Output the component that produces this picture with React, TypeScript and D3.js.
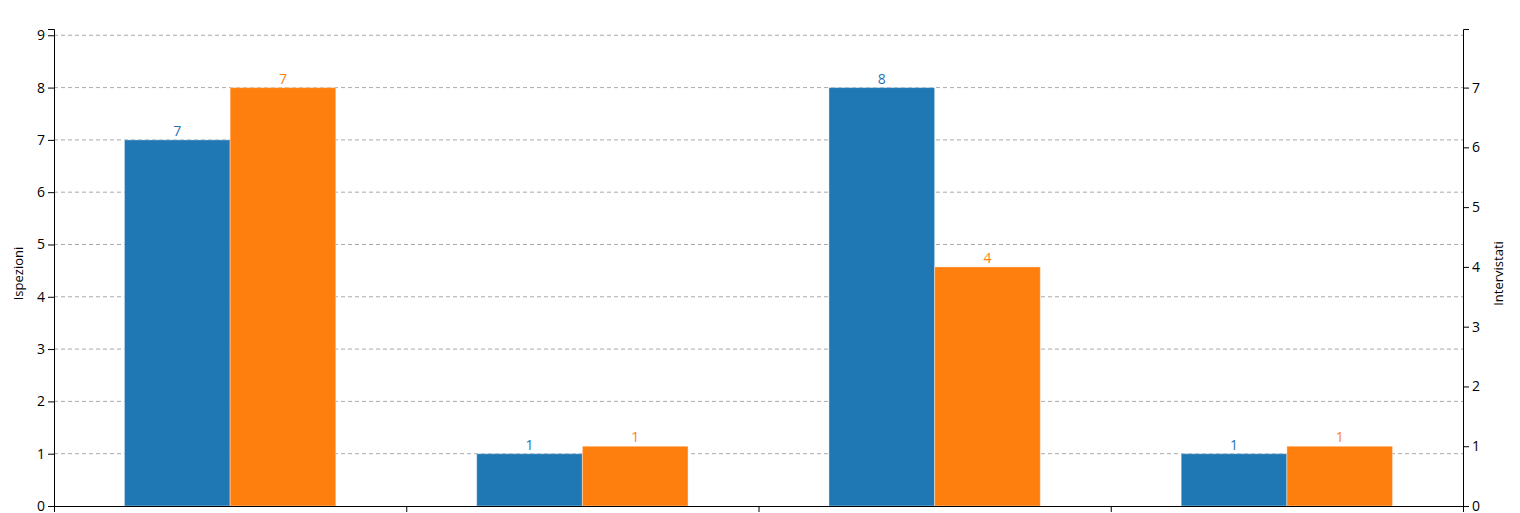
import React, { useEffect, useRef } from "react";
import * as d3 from "d3";

// groups (the x axis carries no labels in the reference)
const categories = ["g1", "g2", "g3", "g4"];
const ispezioni = [7, 1, 8, 1];
const intervistati = [7, 1, 4, 1];
const leftTicks = [0, 1, 2, 3, 4, 5, 6, 7, 8, 9];
const rightTicks = [0, 1, 2, 3, 4, 5, 6, 7];

const W = 1520;
const H = 513;
const margin = { top: 29, right: 57, bottom: 7, left: 54 };
const BLUE = "#1f77b4";
const ORANGE = "#ff7f0e";
const FONT = "'Segoe UI', 'Open Sans', sans-serif";

function App() {
  const svgRef = useRef<SVGSVGElement>(null);

  useEffect(() => {
    const svg = d3.select(svgRef.current);
    svg.selectAll("*").remove();

    const x0 = margin.left;
    const x1 = W - margin.right;
    const y0 = H - margin.bottom;

    // scales
    const yLeft = d3.scaleLinear()
      .domain([0, d3.max(ispezioni)! * 1.14])
      .range([y0, margin.top]);
    const yRight = d3.scaleLinear()
      .domain([0, d3.max(intervistati)! * 1.14])
      .range([y0, margin.top]);
    const xBand = d3.scaleBand().domain(categories).range([x0, x1]).padding(0);
    const bw = xBand.bandwidth();
    const xSub = d3.scaleBand()
      .domain(["left", "right"])
      .range([bw * 0.2, bw * 0.8])
      .padding(0);
    const xLin = d3.scaleLinear().domain([0, categories.length]).range([x0, x1]);

    // grid
    svg.append("g")
      .selectAll("line")
      .data(leftTicks.filter(t => t > 0))
      .join("line")
      .attr("x1", x0)
      .attr("x2", x1)
      .attr("y1", d => yLeft(d))
      .attr("y2", d => yLeft(d))
      .attr("stroke", "#aaa")
      .attr("stroke-dasharray", "4,3");

    // bars
    const groups = svg.append("g")
      .selectAll("g")
      .data(categories)
      .join("g")
      .attr("transform", d => `translate(${xBand(d)},0)`);

    groups.append("rect")
      .attr("x", xSub("left")!)
      .attr("width", xSub.bandwidth())
      .attr("y", (_, i) => yLeft(ispezioni[i]))
      .attr("height", (_, i) => y0 - yLeft(ispezioni[i]))
      .attr("fill", BLUE)
      .attr("stroke", "#fff")
      .attr("stroke-opacity", 0.4);

    groups.append("rect")
      .attr("x", xSub("right")!)
      .attr("width", xSub.bandwidth())
      .attr("y", (_, i) => yRight(intervistati[i]))
      .attr("height", (_, i) => y0 - yRight(intervistati[i]))
      .attr("fill", ORANGE)
      .attr("stroke", "#fff")
      .attr("stroke-opacity", 0.4);

    groups.append("text")
      .attr("x", xSub("left")! + xSub.bandwidth() / 2)
      .attr("y", (_, i) => yLeft(ispezioni[i]) - 4)
      .attr("text-anchor", "middle")
      .attr("fill", BLUE)
      .attr("font-size", "14px")
      .attr("font-family", FONT)
      .text((_, i) => ispezioni[i]);

    groups.append("text")
      .attr("x", xSub("right")! + xSub.bandwidth() / 2)
      .attr("y", (_, i) => yRight(intervistati[i]) - 4)
      .attr("text-anchor", "middle")
      .attr("fill", ORANGE)
      .attr("font-size", "14px")
      .attr("font-family", FONT)
      .text((_, i) => intervistati[i]);

    // axes
    const styleAxis = (g: any) => {
      g.selectAll("text").attr("font-size", "14px").attr("font-family", FONT).attr("fill", "#000");
      g.selectAll("path, line").attr("stroke", "#000");
    };

    svg.append("g")
      .attr("transform", `translate(${x0},0)`)
      .call(d3.axisLeft(yLeft).tickValues(leftTicks).tickFormat(d3.format("d")))
      .call(styleAxis);

    svg.append("g")
      .attr("transform", `translate(${x1},0)`)
      .call(d3.axisRight(yRight).tickValues(rightTicks).tickFormat(d3.format("d")))
      .call(styleAxis);

    svg.append("g")
      .attr("transform", `translate(0,${y0})`)
      .call(d3.axisBottom(xLin).ticks(categories.length).tickFormat(() => "").tickSizeOuter(0))
      .call(styleAxis);

    // axis titles
    svg.append("text")
      .attr("transform", `translate(23,${(margin.top + y0) / 2 + 6}) rotate(-90)`)
      .attr("text-anchor", "middle")
      .attr("font-size", "13px")
      .attr("font-family", FONT)
      .text("Ispezioni");

    svg.append("text")
      .attr("transform", `translate(1503,${(margin.top + y0) / 2 + 6}) rotate(-90)`)
      .attr("text-anchor", "middle")
      .attr("font-size", "13px")
      .attr("font-family", FONT)
      .text("Intervistati");
  }, []);

  return (
    <svg
      ref={svgRef}
      width={W}
      height={H}
      style={{ position: "absolute", left: 0, top: 0, background: "#fff" }}
    />
  );
}

export default App;
